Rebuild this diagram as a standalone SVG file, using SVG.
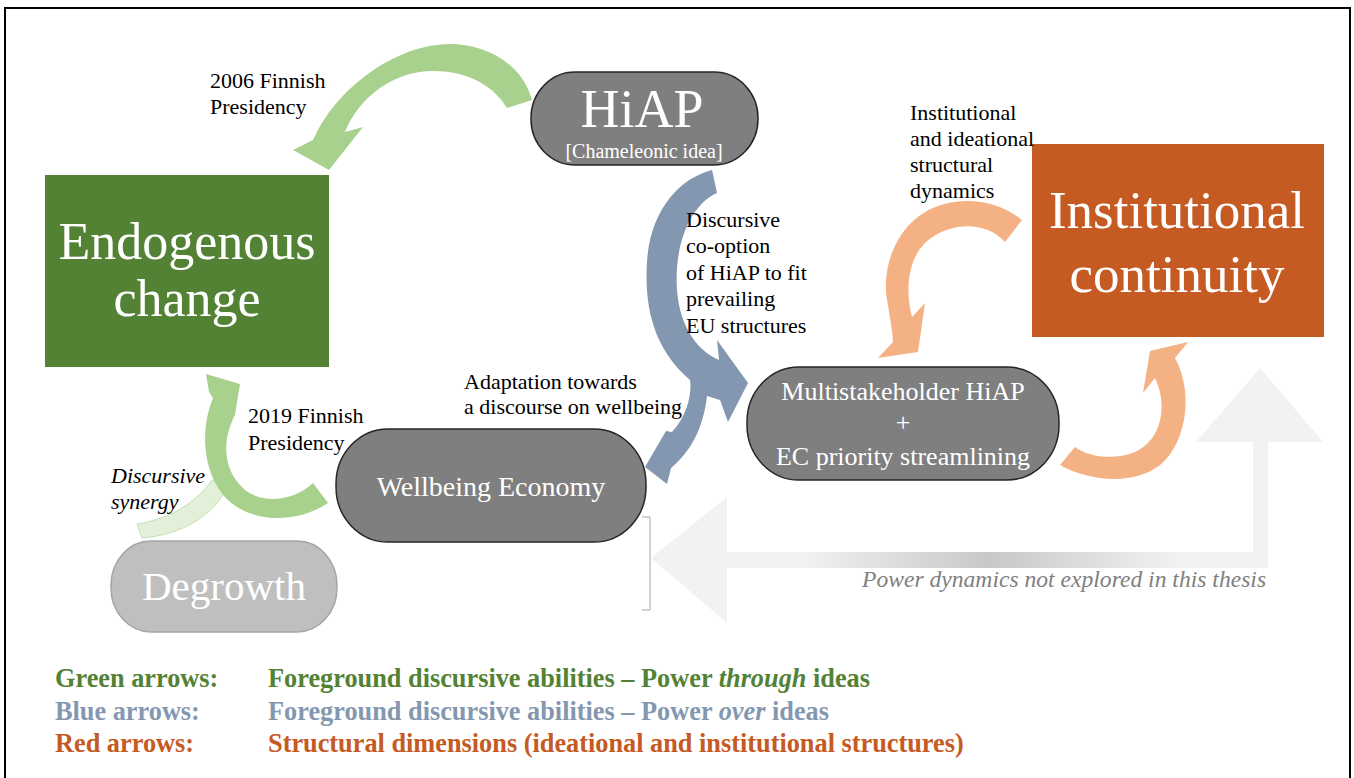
<svg xmlns="http://www.w3.org/2000/svg" width="1354" height="778" viewBox="0 0 1354 778">
  <defs>
    <style>
      .lbl{font-family:"Liberation Serif","Times New Roman",serif;font-size:22px;fill:#000}
      .big{font-family:"Liberation Serif","Times New Roman",serif;fill:#fff;text-anchor:middle}
      .pill{fill:#7f7f7f;stroke:#262626;stroke-width:1.5}
      .green{fill:#a9d18e}
      .blue{fill:#8497b0}
      .orange{fill:#f4b183}
      .leg{font-family:"Liberation Serif","Times New Roman",serif;font-size:26.3px;font-weight:bold}
    </style>
    <linearGradient id="shade" gradientUnits="userSpaceOnUse" x1="800" y1="0" x2="1180" y2="0">
      <stop offset="0" stop-color="#f2f2f2"/>
      <stop offset="0.5" stop-color="#c8c8c8"/>
      <stop offset="1" stop-color="#f2f2f2"/>
    </linearGradient>
  </defs>

  <!-- page and frame -->
  <rect x="0" y="0" width="1354" height="778" fill="#fff"/>
  <rect x="5" y="8" width="1345" height="790" fill="#fff" stroke="#000" stroke-width="2"/>

  <!-- background elbow arrow for unexplored dynamics -->
  <g id="power-dynamics">
    <path d="M651,558 L727,497 L727,552 L1253,552 L1253,442 L1196,442 L1260,368 L1323,442 L1268,442 L1268,568 L727,568 L727,623 Z" fill="#f2f2f2"/>
    <rect x="727" y="552" width="526" height="16" fill="url(#shade)"/>
    <path d="M642,517 H650 V610 H642" fill="none" stroke="#a6a6a6" stroke-width="1"/>
    <text x="862" y="587" font-family="'Liberation Serif','Times New Roman',serif" font-size="23.6" font-style="italic" fill="#808080">Power dynamics not explored in this thesis</text>
  </g>

  <!-- curved block arrows -->
  <g id="connectors">
    <!-- HiAP to endogenous change (2006) -->
    <path class="green" d="M532,100 C520,55 470,40 437,45 C390,50 335,90 313,140 L293,150 L329,170 L363,127 L345,132 C360,95 395,72 430,71 C470,70 495,88 507,108 Z"/>
    <!-- degrowth synergy band -->
    <path d="M137,524 C165,520 195,505 212,480 L226,490 C210,518 180,535 142,538 Z" fill="#e2f0d9" stroke="#c5e0b4" stroke-width="1"/>
    <!-- wellbeing economy to endogenous change (2019) -->
    <path class="green" d="M328,503 C300,522 255,525 228,500 C205,478 198,435 213,398 L209,392 L206,374 L240,384 L235,415 C222,440 222,470 245,490 C265,505 295,500 313,483 Z"/>
    <!-- co-option arc with its two heads -->
    <path class="blue" d="M712,170 C680,178 650,210 647,262 C644,310 655,350 690,380 C692,392 688,415 672,432 L666,431 L645,467 L667,484 L671,468 C690,452 703,430 707,396 L720,400 L728,422 L748,383 L717,340 L719,360 C700,352 680,330 677,290 C674,245 690,205 717,193 Z"/>
    <!-- structural dynamics, upper loop -->
    <path class="orange" d="M1022,220 C995,198 955,195 925,212 C895,230 880,270 888,305 C890,320 893,332 893,342 L878,358 L918,352 L925,303 L912,317 C905,290 908,260 925,243 C948,222 985,220 1005,242 Z"/>
    <!-- structural dynamics, lower loop -->
    <path class="orange" d="M1060,465 C1090,482 1135,485 1160,465 C1185,445 1195,395 1175,358 L1188,342 L1150,351 L1143,393 L1155,378 C1168,405 1162,440 1135,452 C1115,460 1090,458 1075,447 Z"/>
  </g>

  <!-- nodes -->
  <g id="endogenous-change">
    <rect x="45" y="175" width="284" height="192" fill="#548235"/>
    <text class="big" x="187" y="259" font-size="52">Endogenous</text>
    <text class="big" x="187" y="316" font-size="52">change</text>
  </g>

  <g id="hiap">
    <rect class="pill" x="531" y="72" width="227" height="93" rx="44" ry="46"/>
    <text class="big" x="642" y="127" font-size="54">HiAP</text>
    <text class="big" x="644" y="158" font-size="20" fill="#f2f2f2">[Chameleonic idea]</text>
  </g>

  <g id="institutional-continuity">
    <rect x="1032" y="144" width="292" height="193" fill="#c55a22"/>
    <text class="big" x="1177" y="228" font-size="53">Institutional</text>
    <text class="big" x="1177" y="292" font-size="53">continuity</text>
  </g>

  <g id="multistakeholder">
    <rect class="pill" x="747" y="367" width="312" height="113" rx="52" ry="55"/>
    <text class="big" x="903" y="400" font-size="26">Multistakeholder HiAP</text>
    <text class="big" x="903" y="431" font-size="26">+</text>
    <text class="big" x="903" y="465" font-size="26">EC priority streamlining</text>
  </g>

  <g id="wellbeing-economy">
    <rect class="pill" x="336" y="429" width="310" height="113" rx="52" ry="55"/>
    <text class="big" x="491" y="496" font-size="28">Wellbeing Economy</text>
  </g>

  <g id="degrowth">
    <rect x="111" y="541" width="226" height="91" rx="40" ry="44" fill="#bfbfbf" stroke="#a6a6a6" stroke-width="1.5"/>
    <text class="big" x="224" y="600" font-size="41">Degrowth</text>
  </g>

  <!-- arrow labels -->
  <g id="labels">
    <text class="lbl" font-size="23.5"><tspan x="210" y="88">2006 Finnish</tspan><tspan x="210" y="114">Presidency</tspan></text>
    <text class="lbl"><tspan x="910" y="120">Institutional</tspan><tspan x="910" y="146">and ideational</tspan><tspan x="910" y="172">structural</tspan><tspan x="910" y="198">dynamics</tspan></text>
    <text class="lbl"><tspan x="686" y="227">Discursive</tspan><tspan x="686" y="253">co-option</tspan><tspan x="686" y="280">of HiAP to fit</tspan><tspan x="686" y="306">prevailing</tspan><tspan x="686" y="333">EU structures</tspan></text>
    <text class="lbl"><tspan x="464" y="389">Adaptation towards</tspan><tspan x="464" y="414">a discourse on wellbeing</tspan></text>
    <text class="lbl"><tspan x="248" y="423">2019 Finnish</tspan><tspan x="248" y="450">Presidency</tspan></text>
    <text class="lbl" font-style="italic"><tspan x="111" y="483">Discursive</tspan><tspan x="111" y="509">synergy</tspan></text>
  </g>

  <!-- key -->
  <g id="legend">
    <text class="leg" x="55" y="687" fill="#548235">Green arrows:</text>
    <text class="leg" x="268" y="687" fill="#548235">Foreground discursive abilities – Power <tspan font-style="italic">through</tspan> ideas</text>
    <text class="leg" x="55" y="720" fill="#8497b0">Blue arrows:</text>
    <text class="leg" x="268" y="720" fill="#8497b0">Foreground discursive abilities – Power <tspan font-style="italic">over</tspan> ideas</text>
    <text class="leg" x="55" y="752" fill="#c55a22">Red arrows:</text>
    <text class="leg" x="268" y="752" fill="#c55a22">Structural dimensions (ideational and institutional structures)</text>
  </g>
</svg>
